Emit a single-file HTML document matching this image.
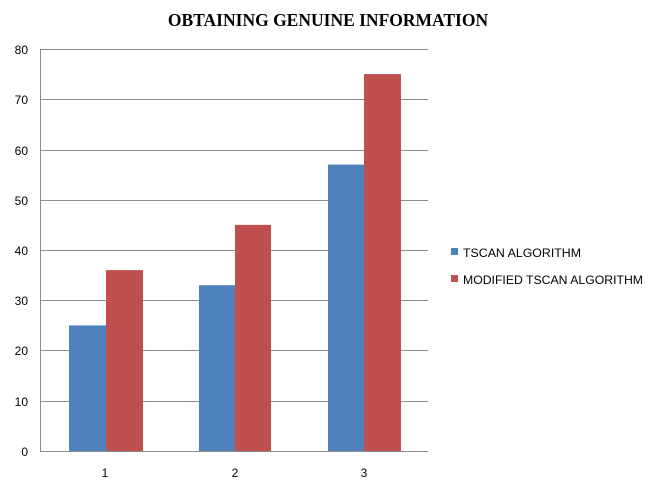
<!DOCTYPE html>
<html><head><style>body{margin:0;background:#fff}svg{display:block}</style></head><body>
<svg width="649" height="480" xmlns="http://www.w3.org/2000/svg" font-family="Liberation Sans, sans-serif">
<rect width="649" height="480" fill="#fff"/>
<text x="328" y="26" text-anchor="middle" font-family="Liberation Serif, serif" font-weight="bold" font-size="17.5">OBTAINING GENUINE INFORMATION</text>
<g stroke="#8c8c8c" stroke-width="1">
<line x1="40" y1="49.5" x2="428" y2="49.5"/>
<line x1="40" y1="99.5" x2="428" y2="99.5"/>
<line x1="40" y1="150.5" x2="428" y2="150.5"/>
<line x1="40" y1="200.5" x2="428" y2="200.5"/>
<line x1="40" y1="250.5" x2="428" y2="250.5"/>
<line x1="40" y1="300.5" x2="428" y2="300.5"/>
<line x1="40" y1="350.5" x2="428" y2="350.5"/>
<line x1="40" y1="401.5" x2="428" y2="401.5"/>
<line x1="40" y1="451.5" x2="428" y2="451.5"/>
<line x1="40.5" y1="49" x2="40.5" y2="451"/>
</g>
<g fill="#4f81bd">
<rect x="69" y="325.4" width="37" height="125.6"/>
<rect x="199" y="285.2" width="36" height="165.8"/>
<rect x="328" y="164.6" width="36" height="286.4"/>
</g>
<g fill="#c0504d">
<rect x="106" y="270.1" width="37" height="180.9"/>
<rect x="235" y="224.9" width="36" height="226.1"/>
<rect x="364" y="74.1" width="37" height="376.9"/>
</g>
<g font-size="12" fill="#000" text-anchor="end">
<text x="28" y="54">80</text><text x="28" y="104">70</text><text x="28" y="155">60</text>
<text x="28" y="205">50</text><text x="28" y="255">40</text><text x="28" y="305">30</text>
<text x="28" y="355">20</text><text x="28" y="406">10</text><text x="28" y="456">0</text>
</g>
<g font-size="12" text-anchor="middle">
<text x="105" y="477">1</text><text x="235" y="477">2</text><text x="364" y="477">3</text>
</g>
<rect x="451" y="248" width="7" height="7" fill="#4f81bd"/>
<text x="463" y="257" font-size="12" textLength="118" lengthAdjust="spacingAndGlyphs">TSCAN ALGORITHM</text>
<rect x="451" y="275" width="7" height="7" fill="#c0504d"/>
<text x="463" y="284" font-size="12" textLength="180" lengthAdjust="spacingAndGlyphs">MODIFIED TSCAN ALGORITHM</text>
</svg>
</body></html>
